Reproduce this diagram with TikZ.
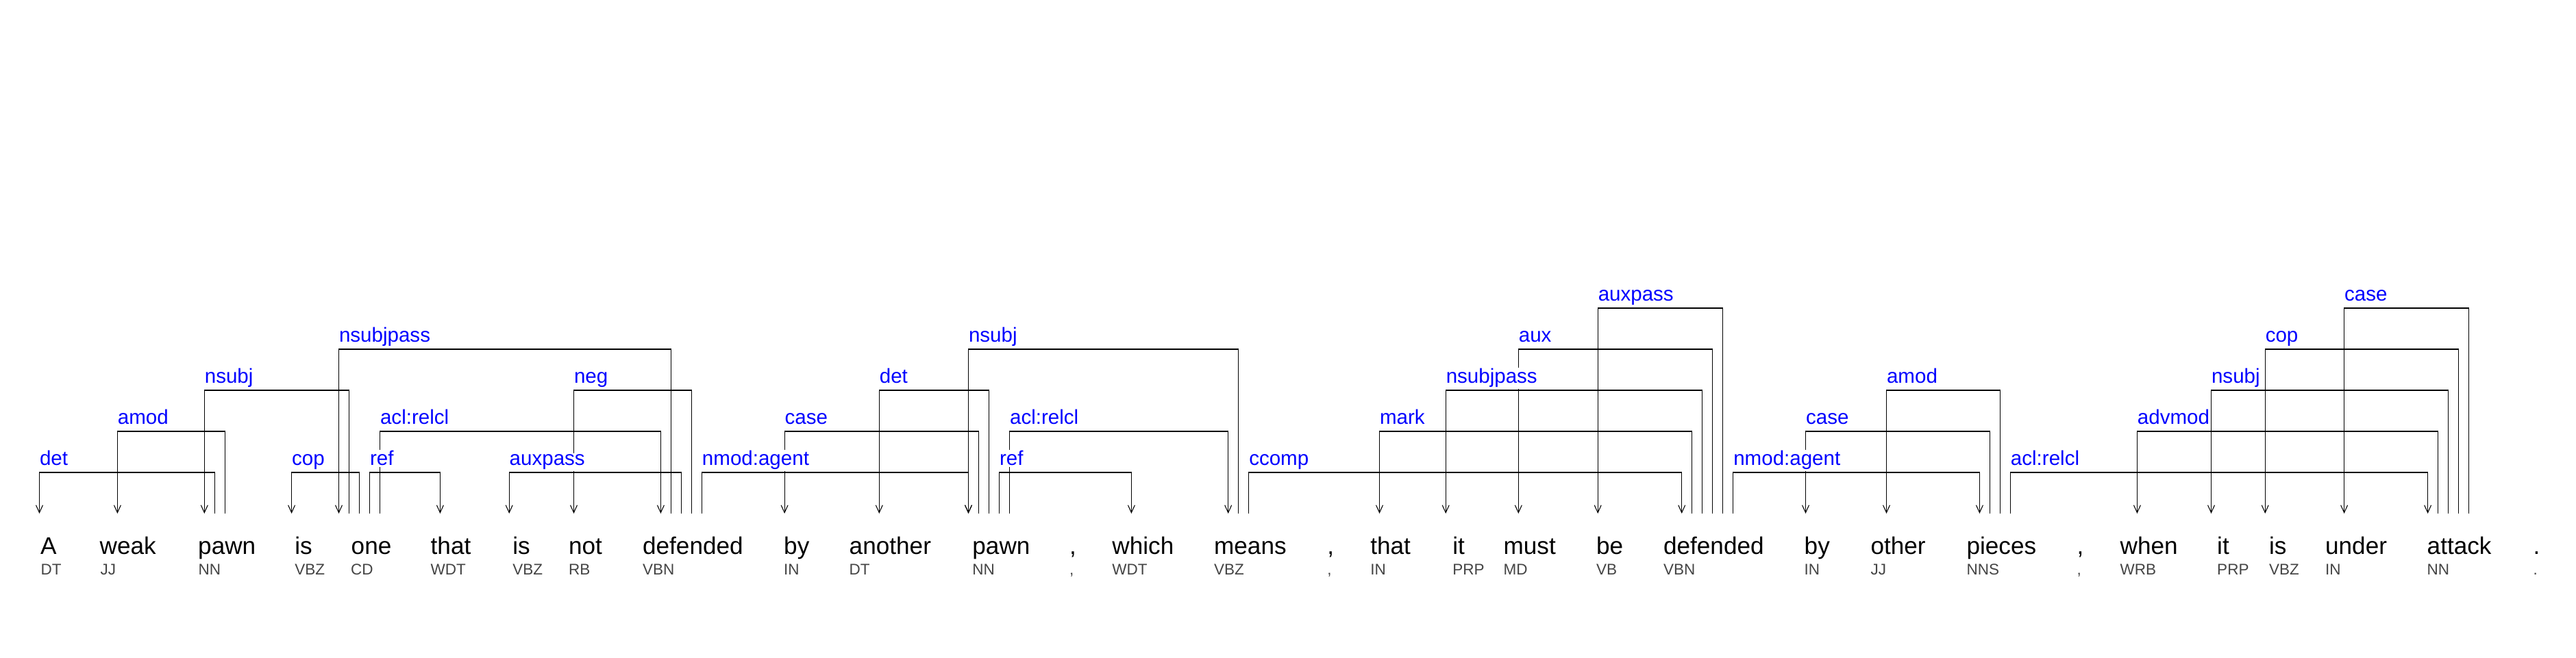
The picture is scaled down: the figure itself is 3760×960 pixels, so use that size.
\documentclass[tikz,border=0pt]{standalone}
\usepackage{fontspec}
\setmainfont{Liberation Sans}
\usetikzlibrary{arrows.meta}
\definecolor{relblue}{HTML}{0000FF}
\definecolor{posgray}{HTML}{444444}

\begin{document}
\begin{tikzpicture}[
    x=0.01cm, y=0.01cm,
    token/.style={anchor=base west, inner sep=0pt, font=\fontsize{10}{12}\selectfont},
    postag/.style={anchor=base west, inner sep=0pt, text=posgray, font=\fontsize{6.4}{8}\selectfont},
    rel/.style={anchor=base west, yshift=1mm, inner xsep=0pt, inner ysep=0.5pt, fill=white, text=relblue, font=\fontsize{8.4}{10}\selectfont},
    dep/.style={-{Straight Barb[length=1.1mm, width=1mm]}, line width=0.3pt}
]
\useasboundingbox (0,0) rectangle (3760,960);

% tokens, tags and arrow ends
\node[token] (A) at (58.5,151) {A};               \node[postag] (A-pos) at (59,121) {DT};           \coordinate (A-in) at (57.5,210);
\node[token] (weak) at (145,151) {weak};          \node[postag] (weak-pos) at (146,121) {JJ};       \coordinate (weak-in) at (171.4,210);
\node[token] (pawn) at (288.5,151) {pawn};        \node[postag] (pawn-pos) at (289,121) {NN};       \coordinate (pawn-in) at (298.3,210);
\node[token] (is) at (429.6,151) {is};            \node[postag] (is-pos) at (429.6,121) {VBZ};      \coordinate (is-in) at (425.6,210);
\node[token] (one) at (512,151) {one};            \node[postag] (one-pos) at (511.5,121) {CD};      \coordinate (one-in) at (494.5,210);
\node[token] (that) at (628,151) {that};          \node[postag] (that-pos) at (628,121) {WDT};      \coordinate (that-in) at (642.4,210);
\node[token] (is2) at (747.7,151) {is};           \node[postag] (is2-pos) at (747.7,121) {VBZ};     \coordinate (is2-in) at (743.2,210);
\node[token] (not) at (829.3,151) {not};          \node[postag] (not-pos) at (829.3,121) {RB};      \coordinate (not-in) at (837.5,210);
\node[token] (defended) at (937.4,151) {defended}; \node[postag] (defended-pos) at (937.4,121) {VBN}; \coordinate (defended-in) at (964.4,210);
\node[token] (by) at (1143.5,151) {by};           \node[postag] (by-pos) at (1143.5,121) {IN};      \coordinate (by-in) at (1145.1,210);
\node[token] (another) at (1239,151) {another};   \node[postag] (another-pos) at (1239,121) {DT};   \coordinate (another-in) at (1283.3,210);
\node[token] (pawn2) at (1418.7,151) {pawn};      \node[postag] (pawn2-pos) at (1418.7,121) {NN};   \coordinate (pawn2-in) at (1413.5,210);
\node[token] (comma) at (1560.4,151) {,};         \node[postag] (comma-pos) at (1560.4,121) {,};
\node[token] (which) at (1622.7,151) {which};     \node[postag] (which-pos) at (1622.7,121) {WDT};  \coordinate (which-in) at (1651.4,210);
\node[token] (means) at (1771.4,151) {means};     \node[postag] (means-pos) at (1771.4,121) {VBZ};  \coordinate (means-in) at (1792.7,210);
\node[token] (comma2) at (1936.7,151) {,};        \node[postag] (comma2-pos) at (1936.7,121) {,};
\node[token] (that2) at (1999.6,151) {that};      \node[postag] (that2-pos) at (1999.6,121) {IN};   \coordinate (that2-in) at (2013.5,210);
\node[token] (it) at (2119.6,151) {it};           \node[postag] (it-pos) at (2119.6,121) {PRP};     \coordinate (it-in) at (2110.2,210);
\node[token] (must) at (2193.9,151) {must};       \node[postag] (must-pos) at (2193.9,121) {MD};    \coordinate (must-in) at (2216.3,210);
\node[token] (be) at (2329.4,151) {be};           \node[postag] (be-pos) at (2329.4,121) {VB};      \coordinate (be-in) at (2332.2,210);
\node[token] (defended2) at (2427.3,151) {defended}; \node[postag] (defended2-pos) at (2427.3,121) {VBN}; \coordinate (defended2-in) at (2454.7,210);
\node[token] (by2) at (2633,151) {by};            \node[postag] (by2-pos) at (2633,121) {IN};       \coordinate (by2-in) at (2635.5,210);
\node[token] (other) at (2729.8,151) {other};     \node[postag] (other-pos) at (2729.8,121) {JJ};   \coordinate (other-in) at (2753.5,210);
\node[token] (pieces) at (2869.8,151) {pieces};   \node[postag] (pieces-pos) at (2869.8,121) {NNS}; \coordinate (pieces-in) at (2889.4,210);
\node[token] (comma3) at (3031,151) {,};          \node[postag] (comma3-pos) at (3031,121) {,};
\node[token] (when) at (3094,151) {when};         \node[postag] (when-pos) at (3094,121) {WRB};     \coordinate (when-in) at (3119.4,210);
\node[token] (it2) at (3235.5,151) {it};          \node[postag] (it2-pos) at (3235.5,121) {PRP};    \coordinate (it2-in) at (3227.5,210);
\node[token] (is3) at (3311.3,151) {is};          \node[postag] (is3-pos) at (3311.3,121) {VBZ};    \coordinate (is3-in) at (3306.2,210);
\node[token] (under) at (3393.4,151) {under};     \node[postag] (under-pos) at (3393.4,121) {IN};   \coordinate (under-in) at (3421.6,210);
\node[token] (attack) at (3542,151) {attack};     \node[postag] (attack-pos) at (3542,121) {NN};    \coordinate (attack-in) at (3543.6,210);
\node[token] (period) at (3696.8,151) {.};        \node[postag] (period-pos) at (3696.8,121) {.};

% level 5
\draw[dep] ([xshift=6mm]defended2-in) -- ++(0,300) -| node[rel, pos=.5] {auxpass} (be-in);
\draw[dep] ([xshift=6mm]attack-in) -- ++(0,300) -| node[rel, pos=.5] {case} (under-in);
% level 4
\draw[dep] ([xshift=1.5mm]defended-in) -- ++(0,240) -| node[rel, pos=.5] {nsubjpass} (one-in);
\draw[dep] ([xshift=1.5mm]means-in) -- ++(0,240) -| node[rel, pos=.5] {nsubj} (pawn2-in);
\draw[dep] ([xshift=4.5mm]defended2-in) -- ++(0,240) -| node[rel, pos=.5] {aux} (must-in);
\draw[dep] ([xshift=4.5mm]attack-in) -- ++(0,240) -| node[rel, pos=.5] {cop} (is3-in);
% level 3
\draw[dep] ([xshift=1.5mm]one-in) -- ++(0,180) -| node[rel, pos=.5] {nsubj} (pawn-in);
\draw[dep] ([xshift=4.5mm]defended-in) -- ++(0,180) -| node[rel, pos=.5] {neg} (not-in);
\draw[dep] ([xshift=3mm]pawn2-in) -- ++(0,180) -| node[rel, pos=.5] {det} (another-in);
\draw[dep] ([xshift=3mm]defended2-in) -- ++(0,180) -| node[rel, pos=.5] {nsubjpass} (it-in);
\draw[dep] ([xshift=3mm]pieces-in) -- ++(0,180) -| node[rel, pos=.5] {amod} (other-in);
\draw[dep] ([xshift=3mm]attack-in) -- ++(0,180) -| node[rel, pos=.5] {nsubj} (it2-in);
% level 2
\draw[dep] ([xshift=3mm]pawn-in) -- ++(0,120) -| node[rel, pos=.5] {amod} (weak-in);
\draw[dep] ([xshift=6mm]one-in) -- ++(0,120) -| node[rel, pos=0] {acl:relcl} (defended-in);
\draw[dep] ([xshift=1.5mm]pawn2-in) -- ++(0,120) -| node[rel, pos=.5] {case} (by-in);
\draw[dep] ([xshift=6mm]pawn2-in) -- ++(0,120) -| node[rel, pos=0] {acl:relcl} (means-in);
\draw[dep] ([xshift=1.5mm]defended2-in) -- ++(0,120) -| node[rel, pos=.5] {mark} (that2-in);
\draw[dep] ([xshift=1.5mm]pieces-in) -- ++(0,120) -| node[rel, pos=.5] {case} (by2-in);
\draw[dep] ([xshift=1.5mm]attack-in) -- ++(0,120) -| node[rel, pos=.5] {advmod} (when-in);
% level 1
\draw[dep] ([xshift=1.5mm]pawn-in) -- ++(0,60) -| node[rel, pos=.5] {det} (A-in);
\draw[dep] ([xshift=3mm]one-in) -- ++(0,60) -| node[rel, pos=.5] {cop} (is-in);
\draw[dep] ([xshift=4.5mm]one-in) -- ++(0,60) -| node[rel, pos=0] {ref} (that-in);
\draw[dep] ([xshift=3mm]defended-in) -- ++(0,60) -| node[rel, pos=.5] {auxpass} (is2-in);
\draw[dep] ([xshift=6mm]defended-in) -- ++(0,60) -| node[rel, pos=0] {nmod:agent} (pawn2-in);
\draw[dep] ([xshift=4.5mm]pawn2-in) -- ++(0,60) -| node[rel, pos=0] {ref} (which-in);
\draw[dep] ([xshift=3mm]means-in) -- ++(0,60) -| node[rel, pos=0] {ccomp} (defended2-in);
\draw[dep] ([xshift=7.5mm]defended2-in) -- ++(0,60) -| node[rel, pos=0] {nmod:agent} (pieces-in);
\draw[dep] ([xshift=4.5mm]pieces-in) -- ++(0,60) -| node[rel, pos=0] {acl:relcl} (attack-in);
\end{tikzpicture}
\end{document}
